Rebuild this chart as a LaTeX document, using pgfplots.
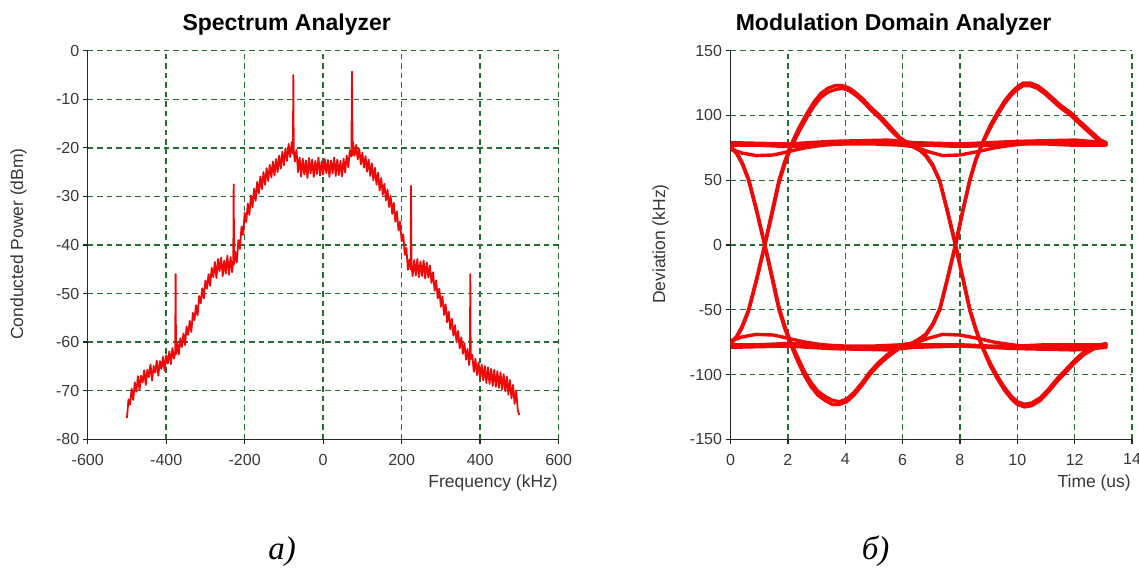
\documentclass[border=0pt]{standalone}
\usepackage{pgfplots}
\pgfplotsset{compat=1.18}
\usepackage{fontspec}
\setmainfont{Liberation Sans}
\newfontfamily\capfont{Liberation Serif}
\definecolor{gridgreen}{RGB}{35,110,50}
\definecolor{ticktext}{RGB}{55,55,55}
\definecolor{trace}{RGB}{238,8,8}
\pgfplotsset{
  myaxis/.style={
    scale only axis,
    anchor=south west,
    axis x line*=bottom, axis y line*=left,
    x axis line style={-}, y axis line style={-},
    axis line style={line width=1.3pt, black!85},
    every tick/.style={line width=1.3pt, black!85},
    major tick length=5pt,
    tick align=outside,
    grid=major,
    major grid style={gridgreen, line width=1.4pt, dash pattern=on 5.5pt off 4pt},
    tick label style={font=\fontsize{16}{19}\selectfont, text=ticktext},
    xticklabel style={yshift=-6pt},
  },
  eye/.style={trace, line width=3.4pt, line join=round, line cap=round, mark=none},
}
\begin{document}
\begin{tikzpicture}[x=1pt,y=1pt]
\useasboundingbox (0,0) rectangle (1139,569);
% ---------------- Spectrum analyzer ----------------
\begin{axis}[myaxis,
  at={(87.7pt,129.7pt)}, width=470.9pt, height=388.6pt,
  xmin=-600, xmax=600, ymin=-80, ymax=0,
  xtick={-600,-400,-200,0,200,400,600},
  xticklabels={-600,-400,-200,0,200,400,600},
  ytick={-80,-70,-60,-50,-40,-30,-20,-10,0},
  yticklabels={-80,-70,-60,-50,-40,-30,-20,-10,0},
]
\addplot[trace, line width=1.8pt, line join=round, mark=none] coordinates {
(-500,-75.6)(-496,-71.8)(-492,-72.9)(-488,-69.6)(-484,-71.9)(-480,-68.3)(-476,-70.2)(-472,-67.0)
(-468,-69.9)(-464,-66.9)(-460,-68.3)(-456,-65.8)(-452,-68.8)(-448,-65.7)(-444,-67.2)(-440,-64.6)
(-436,-67.9)(-432,-64.9)(-428,-66.3)(-424,-63.8)(-420,-66.9)(-416,-63.9)(-412,-65.5)(-408,-63.0)
(-404,-65.9)(-400,-62.7)(-396,-64.4)(-392,-61.9)(-388,-64.5)(-384,-61.2)(-380,-63.4)(-377,-62.0)
(-376,-46.0)(-375,-62.5)(-372,-60.1)(-368,-62.6)(-364,-59.2)(-360,-61.0)(-356,-58.2)(-352,-60.6)
(-348,-56.8)(-344,-58.5)(-340,-55.6)(-336,-57.9)(-332,-54.0)(-328,-55.5)(-324,-52.4)(-320,-54.5)
(-316,-50.5)(-312,-52.0)(-308,-48.9)(-304,-51.0)(-300,-47.3)(-296,-49.0)(-292,-46.0)(-288,-48.4)
(-284,-44.7)(-280,-46.6)(-276,-43.5)(-272,-46.8)(-268,-42.9)(-264,-45.4)(-260,-42.6)(-256,-46.4)
(-252,-43.2)(-248,-45.9)(-244,-42.2)(-240,-46.1)(-236,-42.5)(-232,-45.6)(-229,-43.0)(-228,-27.5)
(-227,-44.0)(-224,-41.4)(-220,-43.6)(-216,-39.0)(-212,-40.8)(-208,-36.2)(-204,-37.9)(-200,-33.4)
(-196,-35.3)(-192,-31.5)(-188,-33.8)(-184,-29.8)(-180,-32.2)(-176,-28.4)(-172,-30.9)(-168,-27.0)
(-164,-29.4)(-160,-25.9)(-156,-28.5)(-152,-25.0)(-148,-27.6)(-144,-24.2)(-140,-26.8)(-136,-23.5)
(-132,-26.1)(-128,-22.8)(-124,-25.7)(-120,-22.3)(-116,-25.0)(-112,-21.6)(-108,-24.3)(-104,-20.8)
(-100,-23.6)(-96,-20.1)(-92,-22.7)(-88,-19.2)(-84,-21.9)(-80,-18.8)(-77,-21.2)(-76,-5.0)
(-75,-20.5)(-72,-22.8)(-68,-20.4)(-64,-25.0)(-60,-22.0)(-56,-25.9)(-52,-22.2)(-48,-25.5)
(-44,-22.6)(-40,-26.2)(-36,-22.1)(-32,-25.3)(-28,-22.4)(-24,-26.0)(-20,-22.7)(-16,-25.4)
(-12,-22.0)(-8,-25.7)(-4,-22.8)(0,-25.5)(4,-22.3)(8,-25.2)(12,-22.5)(16,-26.0)
(20,-22.6)(24,-25.3)(28,-22.0)(32,-25.8)(36,-22.4)(40,-25.6)(44,-22.7)(48,-25.9)
(52,-22.2)(56,-25.1)(60,-21.6)(64,-24.0)(68,-20.5)(72,-21.8)(73.5,-4.3)(75,-21.5)
(76,-18.8)(80,-21.6)(84,-19.4)(88,-22.4)(92,-20.2)(96,-23.4)(100,-21.0)(104,-24.1)
(108,-21.7)(112,-24.9)(116,-22.4)(120,-25.8)(124,-23.2)(128,-26.7)(132,-24.1)(136,-27.6)
(140,-25.1)(144,-28.8)(148,-26.2)(152,-29.7)(156,-27.4)(160,-30.8)(164,-28.6)(168,-32.2)
(172,-29.9)(176,-33.6)(180,-31.3)(184,-35.2)(188,-33.1)(192,-37.0)(196,-35.2)(200,-39.2)
(204,-37.8)(208,-42.0)(212,-40.6)(216,-45.1)(220,-43.0)(223,-45.0)(224,-27.8)(225,-44.2)
(228,-46.4)(232,-43.1)(236,-46.3)(240,-42.9)(244,-46.6)(248,-43.4)(252,-46.4)(256,-43.2)
(260,-46.9)(264,-43.6)(268,-46.7)(272,-44.2)(276,-47.8)(280,-45.6)(284,-49.4)(288,-47.3)
(292,-51.0)(296,-49.0)(300,-52.7)(304,-50.6)(308,-54.4)(312,-52.2)(316,-55.9)(320,-53.7)
(324,-57.4)(328,-55.2)(332,-58.7)(336,-56.5)(340,-60.0)(344,-57.7)(348,-61.3)(352,-59.0)
(356,-62.4)(360,-60.2)(364,-63.6)(368,-61.4)(372,-64.7)(374,-62.8)(375,-46.0)(376,-63.5)
(380,-62.6)(384,-66.1)(388,-63.4)(392,-66.8)(396,-64.2)(400,-67.5)(404,-64.6)(408,-67.9)
(412,-64.9)(416,-68.4)(420,-65.2)(424,-68.6)(428,-65.5)(432,-69.0)(436,-65.7)(440,-69.2)
(444,-66.0)(448,-69.4)(452,-66.2)(456,-69.7)(460,-66.6)(464,-70.1)(468,-67.1)(472,-70.8)
(476,-67.8)(480,-71.6)(484,-68.8)(488,-72.7)(492,-70.0)(496,-74.0)(500,-75.0)
};
\end{axis}
% ---------------- Modulation domain analyzer ----------------
\begin{axis}[myaxis,
  at={(730.5pt,129.7pt)}, width=401.5pt, height=388.6pt,
  xmin=0, xmax=14, ymin=-150, ymax=150,
  xtick={0,2,4,6,8,10,12,14},
  xticklabels={0,2,4,6,8,10,12,14},
  ytick={-150,-100,-50,0,50,100,150},
  yticklabels={-150,-100,-50,0,50,100,150},
]
% rise to first peak, then upper level
\addplot[eye] coordinates {(0,-75)(0.2,-71)(0.4,-63)(0.63,-50)(0.9,-27)(1.19,0)(1.45,26)(1.69,50)(1.9,65)(2.1,77)(2.4,91)(2.65,101)(2.9,110)(3.15,117)(3.4,121)(3.65,123)(3.9,123)(4.15,121)(4.4,117)(4.65,112)(4.9,106)(5.2,100)(5.45,94)(5.7,88)(5.9,83)(6.1,80)(6.35,77)(7,77)(8,76)(9,77)(10,78)(11,78)(12,77)(13.1,77)};
% rise to first peak, then fall to second trough
\addplot[eye] coordinates {(0,-76)(0.2,-72)(0.4,-64)(0.63,-51)(0.9,-28)(1.19,-1)(1.45,24)(1.69,48)(1.9,63)(2.1,75)(2.4,88)(2.65,98)(2.9,107)(3.15,114)(3.4,118)(3.65,120)(3.9,121)(4.15,119)(4.4,115)(4.65,110)(4.9,104)(5.2,98)(5.45,92)(5.7,86)(5.9,82)(6.1,79)(6.35,76)(6.6,74)(6.8,70)(7.05,62)(7.29,50)(7.56,27)(7.85,0)(8.11,-26)(8.35,-50)(8.56,-65)(8.76,-77)(9.05,-91)(9.3,-101)(9.55,-110)(9.8,-117)(10.0,-121)(10.25,-123)(10.5,-122)(10.8,-118)(11.1,-111)(11.4,-103)(11.7,-96)(12.0,-89)(12.3,-83)(12.6,-79)(12.9,-77)(13.1,-76)};
% fall to first trough, then lower level
\addplot[eye] coordinates {(0,75)(0.2,71)(0.4,63)(0.63,50)(0.9,27)(1.19,0)(1.45,-26)(1.69,-50)(1.9,-65)(2.1,-77)(2.35,-90)(2.56,-100)(2.8,-109)(3.05,-116)(3.3,-120)(3.55,-123)(3.8,-123)(4.05,-121)(4.3,-116)(4.6,-108)(4.86,-100)(5.15,-93)(5.45,-87)(5.75,-82)(6.0,-78)(6.3,-77)(7,-77)(8,-77)(9,-78)(10,-78)(11,-77)(12,-77)(13.1,-77)};
% fall to first trough, then rise to second peak
\addplot[eye] coordinates {(0,76)(0.2,72)(0.4,64)(0.63,51)(0.9,28)(1.19,1)(1.45,-24)(1.69,-48)(1.9,-63)(2.1,-75)(2.35,-87)(2.56,-97)(2.8,-106)(3.05,-113)(3.3,-117)(3.55,-120)(3.8,-121)(4.05,-119)(4.3,-114)(4.6,-106)(4.86,-98)(5.15,-91)(5.45,-85)(5.75,-80)(6.0,-77)(6.3,-76)(6.55,-74)(6.8,-70)(7.05,-62)(7.3,-50)(7.56,-27)(7.85,0)(8.1,26)(8.35,50)(8.55,65)(8.76,77)(9.05,90)(9.3,100)(9.55,109)(9.8,116)(10.0,120)(10.2,123)(10.45,123)(10.7,121)(10.95,117)(11.2,112)(11.5,106)(11.87,100)(12.15,94)(12.45,88)(12.7,83)(12.9,80)(13.1,78)};
% upper level, then fall
\addplot[eye] coordinates {(0,77)(1,77)(2,76)(3,77)(4,78)(5,78)(6,77)(6.35,76)(6.6,73)(6.8,69)(7.05,61)(7.3,49)(7.56,26)(7.85,-1)(8.11,-27)(8.35,-51)(8.56,-66)(8.76,-78)(9.05,-93)(9.3,-103)(9.55,-112)(9.8,-119)(10.0,-123)(10.25,-125)(10.5,-124)(10.8,-120)(11.1,-113)(11.4,-105)(11.7,-98)(12.0,-91)(12.3,-85)(12.6,-81)(12.9,-78)(13.1,-77)};
% lower level, then rise
\addplot[eye] coordinates {(0,-77)(1,-77)(2,-76)(3,-77)(4,-78)(5,-78)(6,-77)(6.3,-76)(6.55,-73)(6.8,-69)(7.05,-61)(7.3,-49)(7.56,-26)(7.85,1)(8.1,27)(8.35,51)(8.55,66)(8.76,78)(9.05,92)(9.3,102)(9.55,111)(9.8,118)(10.0,122)(10.2,125)(10.45,125)(10.7,123)(10.95,119)(11.2,114)(11.5,108)(11.87,102)(12.15,96)(12.45,90)(12.7,85)(12.9,81)(13.1,79)};
% upper level with dips
\addplot[eye] coordinates {(0,74)(0.4,71)(0.9,69)(1.5,69.5)(2.0,72)(2.6,75)(3.2,77)(4,79)(5,79)(6,78)(6.4,76)(6.9,72)(7.4,69)(8,69.5)(8.6,72)(9.2,75)(9.8,77)(10.6,79)(12,79)(13.1,78)};
\addplot[eye] coordinates {(0,79)(2,78)(3.5,80)(5.5,81)(6.4,79)(8,78)(10,80)(12,81)(13.1,79)};
% lower level with dips
\addplot[eye] coordinates {(0,-74)(0.4,-71)(0.9,-69)(1.5,-69.5)(2.0,-72)(2.6,-75)(3.2,-77)(4,-79)(5,-79)(6,-78)(6.4,-76)(6.9,-72)(7.4,-69)(8,-69.5)(8.6,-72)(9.2,-75)(9.8,-77)(10.6,-79)(12,-79)(13.1,-78)};
\addplot[eye] coordinates {(0,-79)(2,-78)(3.5,-80)(5.5,-81)(6.4,-79)(8,-78)(10,-80)(12,-81)(13.1,-79)};
\end{axis}
% ---------------- texts ----------------
\node[font=\fontsize{23}{27}\selectfont\bfseries] at (286.7,544) {Spectrum Analyzer};
\node[font=\fontsize{23}{27}\selectfont\bfseries] at (893.6,544) {Modulation Domain Analyzer};
\node[font=\fontsize{17.5}{21}\selectfont, text=ticktext, rotate=90] at (18.5,325) {Conducted Power (dBm)};
\node[font=\fontsize{17.5}{21}\selectfont, text=ticktext, rotate=90] at (660.6,325) {Deviation (kHz)};
\node[font=\fontsize{17.5}{21}\selectfont, text=ticktext, anchor=east, inner sep=0pt] at (558,85.7) {Frequency (kHz)};
\node[font=\fontsize{17.5}{21}\selectfont, text=ticktext, anchor=east, inner sep=0pt] at (1131,85.7) {Time (us)};
\node[font=\capfont\itshape\fontsize{33}{38}\selectfont] at (282,17.3) {а)};
\node[font=\capfont\itshape\fontsize{33}{38}\selectfont] at (875.6,17.3) {б)};
\end{tikzpicture}
\end{document}
